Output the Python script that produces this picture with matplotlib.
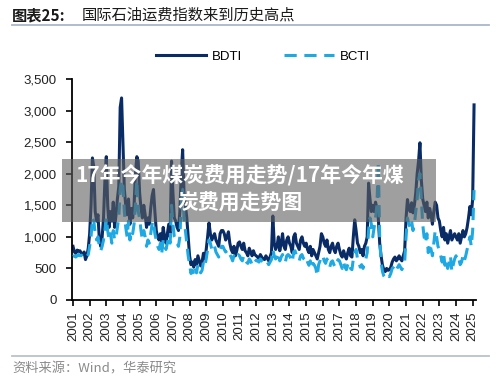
import numpy as np
import matplotlib
matplotlib.use("Agg")
import matplotlib.pyplot as plt
from matplotlib.lines import Line2D
from matplotlib.patches import Rectangle

# ---------------- data (monthly, Jan 2001 .. Feb 2025) ----------------
bdti = [
    850, 760, 740, 790, 770, 780, 740, 720, 760, 640, 700, 820,          # 2001
    1050, 1500, 2250, 2100, 1400, 1250, 1350, 950, 850, 1000, 1300, 1900,  # 2002
    2270, 1500, 1150, 1400, 1250, 1550, 1150, 1350, 1600, 1800, 3050, 3200,  # 2003
    2490, 1750, 1500, 1350, 1600, 1200, 1450, 1300, 1500, 2000, 2270, 2200,  # 2004
    1700, 1450, 1300, 1500, 1350, 1150, 1300, 1200, 1450, 1650, 1750, 1400,  # 2005
    1100, 1000, 950, 1050, 900, 1150, 1000, 900, 1050, 1200, 1000, 2200,     # 2006
    1700, 1300, 1250, 1150, 1100, 1400, 2000, 2380, 1700, 1500, 1300, 1000,  # 2007
    700, 560, 600, 520, 640, 560, 700, 620, 540, 600, 740, 650,              # 2008
    800, 1000, 1220, 1050, 950, 1000, 1050, 950, 900, 850, 1050, 1100,       # 2009
    1100, 1050, 950, 1000, 1080, 900, 800, 750, 850, 700, 780, 900,          # 2010
    920, 850, 800, 900, 780, 750, 700, 820, 760, 700, 780, 720,              # 2011
    700, 680, 650, 720, 680, 650, 640, 700, 660, 620, 680, 750,              # 2012
    1330, 900, 800, 850, 1000, 780, 900, 1050, 850, 800, 950, 1000,          # 2013
    900, 850, 750, 1000, 1050, 900, 850, 800, 950, 1000, 900, 850,           # 2014
    900, 800, 750, 850, 700, 800, 750, 700, 650, 750, 850, 1050,             # 2015
    1000, 900, 850, 950, 800, 750, 850, 900, 800, 750, 850, 900,             # 2016
    800, 720, 680, 780, 700, 650, 750, 820, 700, 680, 1000, 1270,            # 2017
    1100, 900, 850, 750, 800, 700, 850, 900, 1000, 1850, 1600, 1400,         # 2018
    1500, 1400, 1550, 1450, 1300, 900, 700, 550, 480, 450, 500, 470,         # 2019
    480, 520, 600, 650, 680, 620, 650, 700, 650, 620, 700, 780,              # 2020
    1300, 1590, 1450, 1400, 1540, 1380, 1500, 1700, 2000, 2200, 2490, 1900,  # 2021
    1600, 1500, 1400, 1550, 1300, 1450, 1350, 1200, 1400, 1550, 1500, 1300,  # 2022
    1250, 1100, 1000, 1150, 950, 1050, 900, 1000, 1100, 950, 1000, 1050,     # 2023
    1000, 950, 1050, 900, 1000, 1100, 1000, 1050, 1150, 1300, 1480, 1350,   # 2024
    1600, 3090,                                                              # 2025
]
bcti = [
    690, 700, 680, 700, 720, 700, 710, 690, 700, 660, 690, 720,
    850, 1000, 1300, 1250, 1050, 950, 1000, 850, 780, 850, 950, 1100,
    1300, 1100, 950, 1050, 900, 1100, 950, 1000, 1150, 1300, 1750, 1900,
    1800, 1400, 1150, 1000, 1250, 950, 1100, 1050, 1200, 1500, 1900, 1400,
    1300, 1100, 950, 1100, 1000, 850, 950, 900, 1050, 1200, 1250, 1050,
    950, 850, 800, 900, 750, 950, 850, 800, 900, 1000, 900, 1500,
    1200, 1000, 950, 900, 850, 1000, 1500, 1750, 1300, 1100, 900, 700,
    560, 420, 470, 400, 500, 430, 560, 480, 430, 470, 600, 540,
    650, 800, 950, 900, 800, 780, 850, 760, 720, 680, 800, 850,
    850, 800, 760, 780, 800, 720, 680, 620, 700, 650, 680, 720,
    700, 650, 620, 700, 640, 600, 580, 650, 620, 560, 620, 600,
    630, 620, 600, 650, 620, 600, 580, 620, 600, 560, 600, 640,
    800, 700, 650, 680, 750, 620, 680, 720, 640, 600, 700, 720,
    700, 650, 600, 760, 780, 700, 650, 620, 700, 720, 660, 640,
    680, 600, 550, 620, 500, 580, 550, 500, 380, 560, 620, 700,
    700, 620, 580, 650, 560, 520, 600, 620, 560, 520, 600, 640,
    620, 560, 500, 600, 520, 480, 560, 600, 500, 480, 650, 750,
    800, 650, 600, 520, 560, 500, 600, 650, 750, 1100, 1300, 1200,
    1000, 1150, 1300, 1500, 2190, 1000, 600, 450, 380, 350, 400, 380,
    370, 420, 500, 520, 550, 480, 520, 560, 520, 480, 540, 600,
    1000, 1300, 1200, 1150, 1250, 1100, 1200, 1400, 1600, 1900, 2000, 1600,
    1200, 1000, 900, 1050, 750, 900, 800, 700, 900, 1100, 1000, 850,
    800, 700, 600, 750, 550, 650, 500, 600, 700, 450, 560, 650,
    700, 620, 650, 560, 600, 700, 620, 700, 800, 900, 1000, 850,
    1100, 1740,
]
start_year = 2001
year_ticks = list(range(2001, 2026))
y_ticks = [0, 500, 1000, 1500, 2000, 2500, 3000, 3500]
series_names = ["BDTI", "BCTI"]
title_bold = "图表25:"
title_rest = "国际石油运费指数来到历史高点"
source_text = "资料来源：Wind，华泰研究"
overlay_line1 = "17年今年煤炭费用走势/17年今年煤"
overlay_line2 = "炭费用走势图"

# ---------------- styling ----------------
plt.rcParams['font.family'] = ['Liberation Sans', 'Noto Sans CJK SC', 'DejaVu Sans']
dark = '#0a2c66'
light = '#1fa9e2'
cjk = ['Noto Sans CJK SC', 'DejaVu Sans']

W, H = 500, 382
fig = plt.figure(figsize=(W / 100, H / 100), dpi=100)

def fx(px):
    return px / W

def fy(py):
    return 1 - py / H

ax = fig.add_axes([fx(72), fy(300), fx(476) - fx(72), fy(79) - fy(300)])

x = start_year + np.arange(len(bdti)) / 12.0
ax.plot(x, bdti, color=dark, lw=2.2, label=series_names[0], zorder=2)
ax.plot(x, bcti, color=light, lw=2.2, ls=(0, (4.0, 2.5)), label=series_names[1], zorder=3)

ax.set_xlim(2000.94, 2025.2)
ax.set_ylim(0, 3500)
ax.set_yticks(y_ticks)
ax.set_yticklabels([f"{v:,}" for v in y_ticks])
ax.set_xticks(year_ticks)
ax.set_xticklabels([str(y) for y in year_ticks], rotation=90)

for s in ['top', 'right']:
    ax.spines[s].set_visible(False)
for s in ['left', 'bottom']:
    ax.spines[s].set_linewidth(1.3)
    ax.spines[s].set_color('black')
ax.tick_params(axis='y', direction='out', length=4, width=1.2, labelsize=9.5, pad=7, colors='#222222')
ax.tick_params(axis='x', direction='out', length=4, width=1.2, labelsize=9.5, pad=4, colors='#222222')
ax.tick_params(axis='both', color='black')

fig.legend(loc='center', bbox_to_anchor=(fx(263), fy(57)), ncol=2, frameon=False,
           handlelength=3.8, columnspacing=3.2, handletextpad=0.4, fontsize=9.5)

# title
fig.text(fx(12), fy(15), title_bold, fontsize=11, fontweight='bold', family=cjk,
         ha='left', va='center', color='#1a1a1a')
fig.text(fx(82), fy(15), title_rest, fontsize=11, family=cjk,
         ha='left', va='center', color='#1a1a1a')
fig.add_artist(Line2D([fx(12), fx(489)], [fy(25), fy(25)], color='#a9b8c8', lw=1.3))

# footer
fig.add_artist(Line2D([fx(12), fx(489)], [fy(356), fy(356)], color='#b9c3cb', lw=1.3))
fig.text(fx(12), fy(369), source_text, fontsize=9.5, family=cjk,
         ha='left', va='center', color='#8a8a8a')

# overlay watermark
fig.add_artist(Rectangle((fx(62), fy(222)), fx(436) - fx(62), fy(159) - fy(222),
                         transform=fig.transFigure, facecolor='#5f5f5f', alpha=0.6,
                         edgecolor='none', zorder=10))
fig.text(fx(240), fy(176), overlay_line1, fontsize=15, fontweight='bold', family=cjk,
         ha='center', va='center', color='white', zorder=11)
fig.text(fx(240), fy(203), overlay_line2, fontsize=15, fontweight='bold', family=cjk,
         ha='center', va='center', color='white', zorder=11)

fig.savefig('out.png', dpi=100)
